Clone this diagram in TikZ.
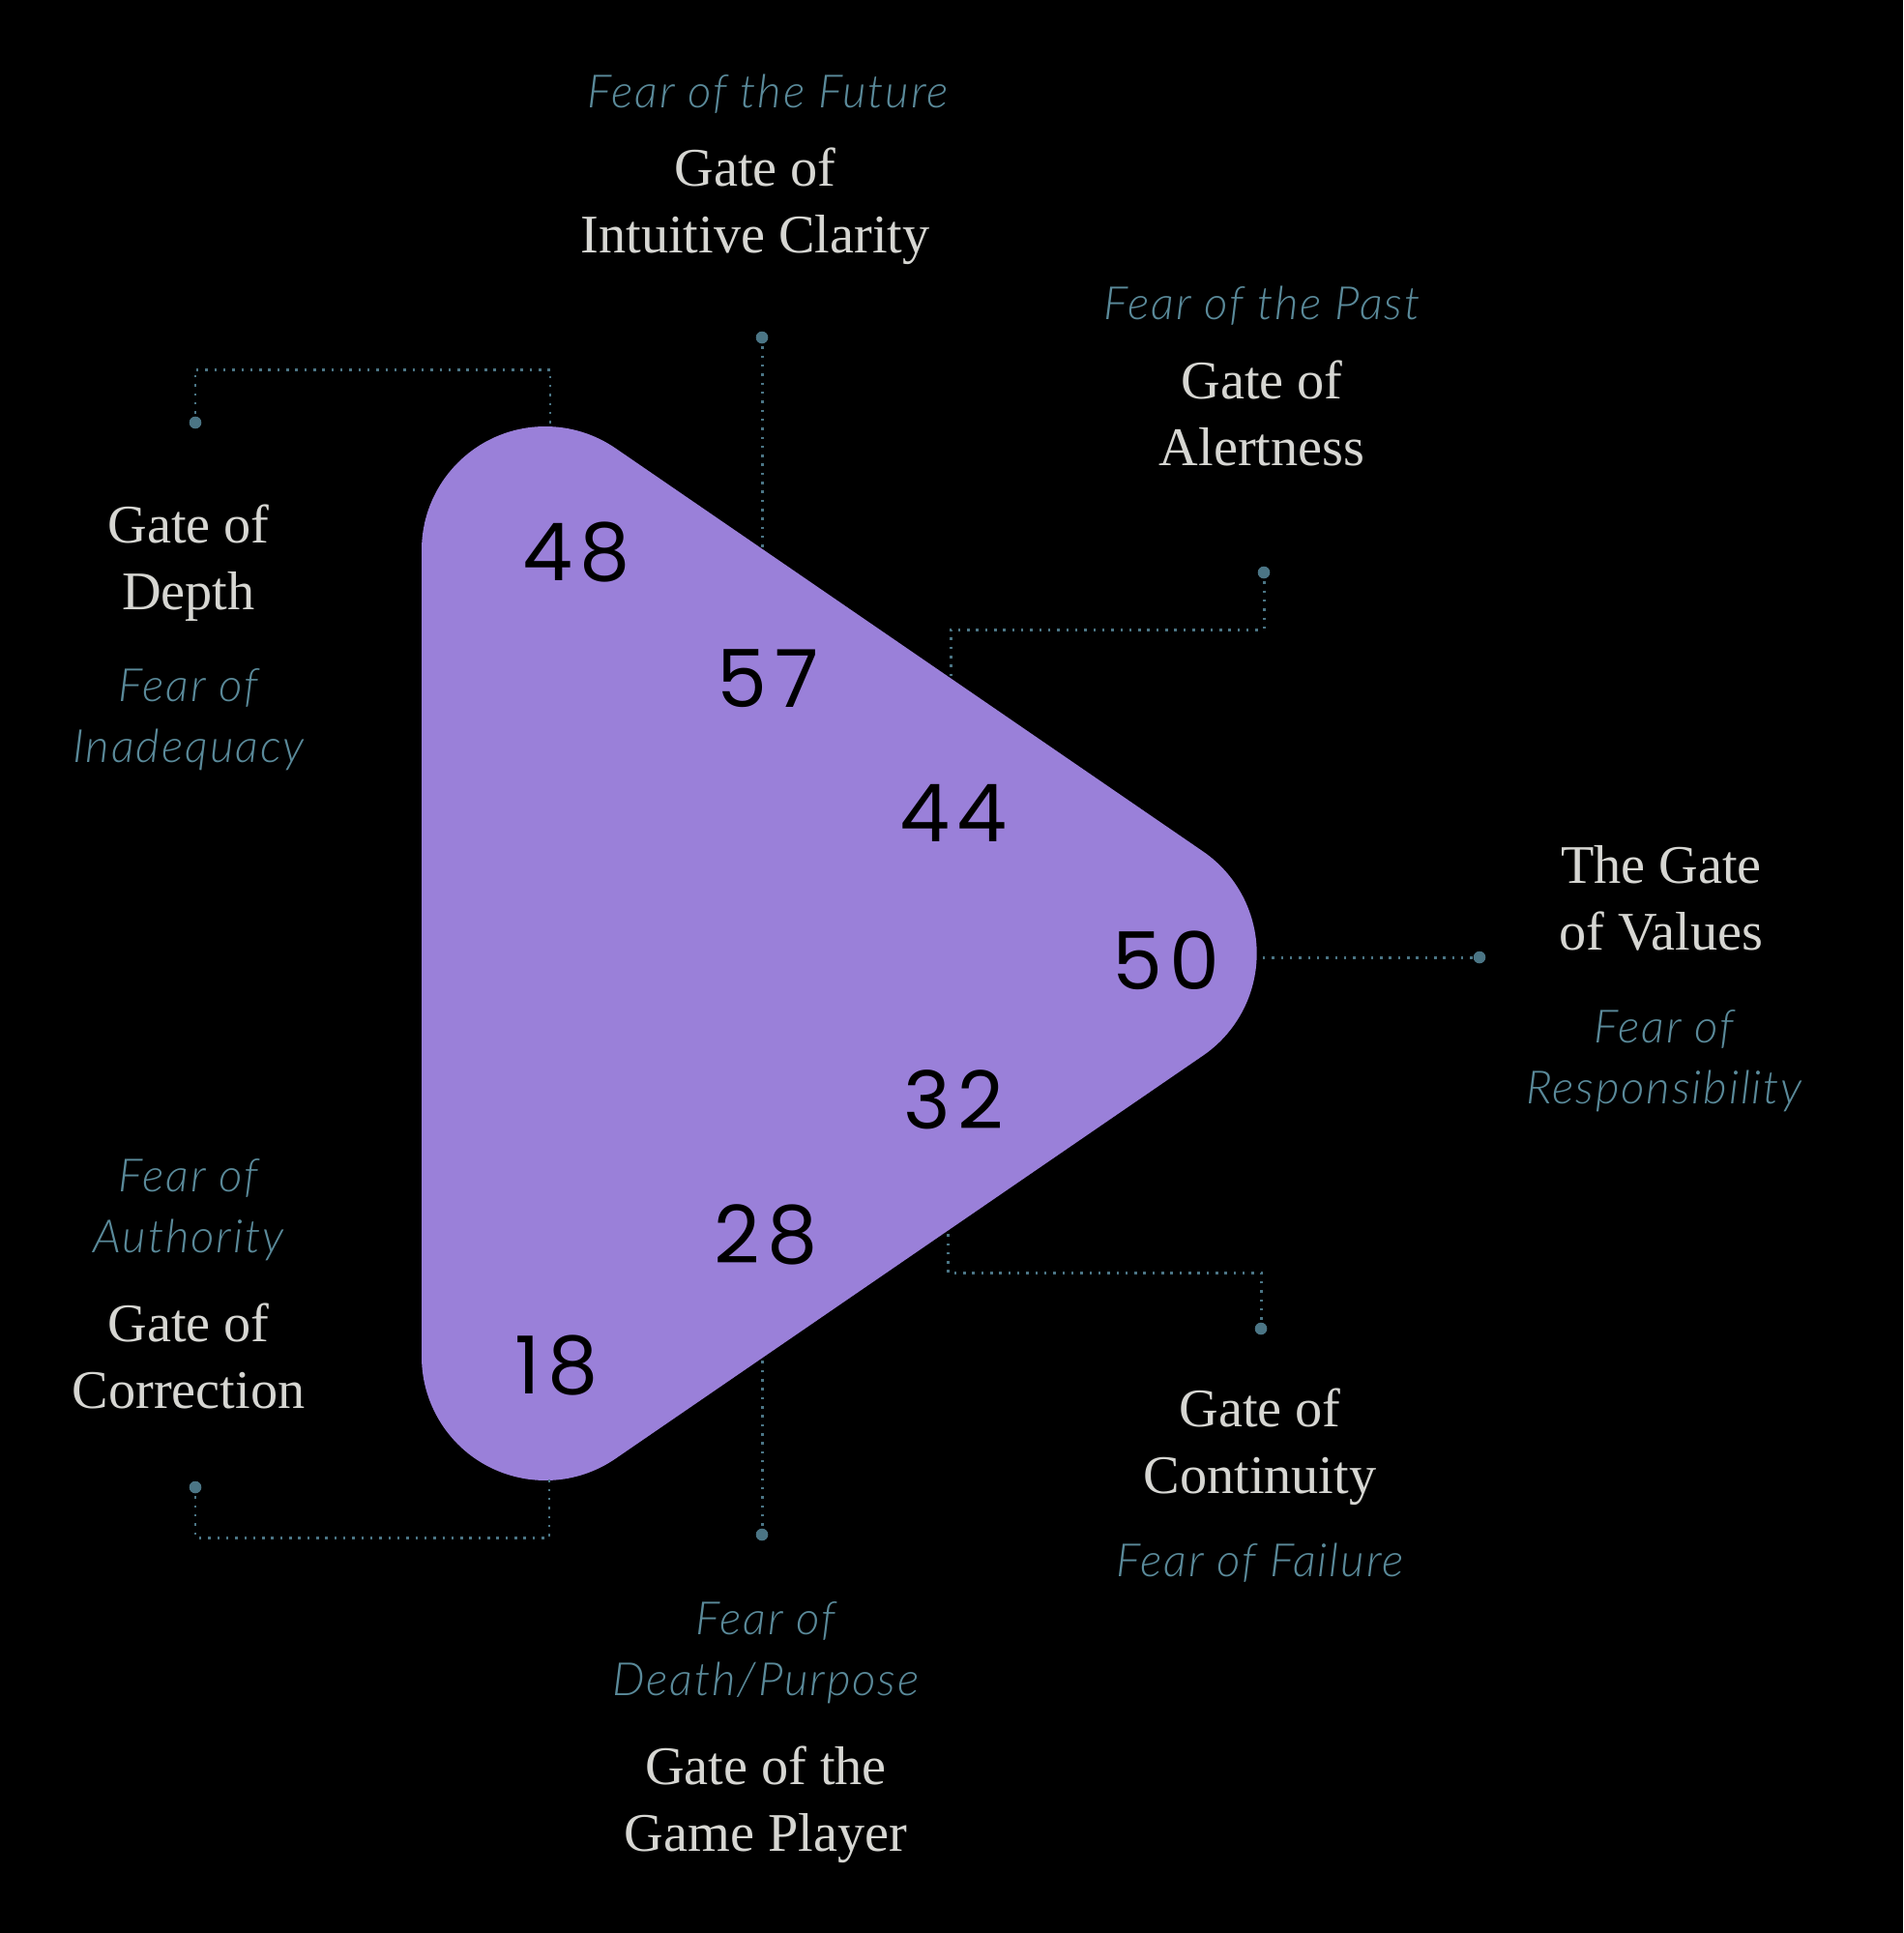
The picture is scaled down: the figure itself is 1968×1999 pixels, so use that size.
\documentclass[tikz,border=0pt]{standalone}
\usepackage{fontspec}
\setmainfont{Liberation Serif}
\newfontfamily\fearfont{Lato Light Italic}[LetterSpace=4]
\newfontfamily\numfont{Poppins}[LetterSpace=9]
\usetikzlibrary{positioning}

\definecolor{gatepurple}{HTML}{9A80D9}
\definecolor{gategray}{HTML}{D6D6D2}
\definecolor{fearteal}{HTML}{5A8A9A}
\definecolor{linkteal}{HTML}{4B7585}

\tikzset{
  gate/.style={text=gategray, font=\fontsize{16}{19.6}\selectfont, align=center},
  fear/.style={text=fearteal, font=\fearfont\fontsize{13.5}{17.9}\selectfont, align=center},
  num/.style={text=black, font=\numfont\fontsize{23.5}{26}\selectfont},
  link/.style={linkteal, line width=0.85pt, dash pattern=on 0.7pt off 1.95pt},
  pin/.style={fill=linkteal}
}

\begin{document}
\begin{tikzpicture}[x=0.01cm,y=-0.01cm]
  % background, fixes the page size
  \fill[black] (0,0) rectangle (1968,1999);

  % the rounded triangle
  \fill[gatepurple] (436,569) arc[start angle=180, end angle=304.45, radius=128]
    -- (1244.1,880.5) arc[start angle=-55.55, end angle=55.55, radius=128]
    -- (636.4,1508.5) arc[start angle=55.55, end angle=180, radius=128] -- cycle;

  % gate numbers
  \node[num] (n48) at (596,571) {48};
  \node[num] (n57) at (794,702) {57};
  \node[num] (n44) at (986,841) {44};
  \node[num] (n50) at (1206,993) {50};
  \node[num] (n32) at (986,1137) {32};
  \node[num] (n28) at (792,1277) {28};
  \node[num] (n18) at (576,1412) {18};

  % where the links touch the triangle
  \coordinate (c48) at (569,443);
  \coordinate (c57) at (788,567.5);
  \coordinate (c44) at (983,701);
  \coordinate (c50) at (1306,990);
  \coordinate (c32) at (980,1273);
  \coordinate (c28) at (788,1404.5);
  \coordinate (c18) at (568,1530);
  % free ends of the links
  \coordinate (d48) at (202,437);
  \coordinate (d57) at (788,349);
  \coordinate (d44) at (1307,592);
  \coordinate (d50) at (1530,990);
  \coordinate (d32) at (1304,1374);
  \coordinate (d28) at (788,1587);
  \coordinate (d18) at (202,1538);

  \draw[link] (d48) -- ++(0,-55) -| (c48);
  \draw[link] (d57) -- (c57);
  \draw[link] (d44) -- ++(0,59) -| (c44);
  \draw[link] (c50) -- (d50);
  \draw[link] (d32) -- ++(0,-58) -| (c32);
  \draw[link] (d28) -- (c28);
  \draw[link] (d18) -- ++(0,52) -| (c18);
  \foreach \g in {48,57,44,50,32,28,18}
    \fill[pin] (d\g) circle (6.3);

  % labels
  \node[fear] (f57) at (794,97) {Fear of the Future};
  \node[gate] (g57) at (781,213) {Gate of\\Intuitive Clarity};
  \node[fear] (f44) at (1305,316) {Fear of the Past};
  \node[gate] (g44) at (1305,427) {Gate of\\Alertness};
  \node[gate] (g48) at (195,582) {Gate of\\Depth};
  \node[fear] (f48) at (195,744) {Fear of\\Inadequacy};
  \node[gate] (g50) at (1718,929) {The Gate\\of Values};
  \node[fear] (f50) at (1721,1097) {Fear of\\Responsibility};
  \node[fear] (f18) at (195,1251) {Fear of\\Authority};
  \node[gate] (g18) at (195,1402) {Gate of\\Correction};
  \node[gate] (g32) at (1303,1496) {Gate of\\Continuity};
  \node[fear] (f32) at (1303,1616) {Fear of Failure};
  \node[fear] (f28) at (792,1709) {Fear of\\Death/Purpose};
  \node[gate] (g28) at (792,1866) {Gate of the\\Game Player};
\end{tikzpicture}
\end{document}
